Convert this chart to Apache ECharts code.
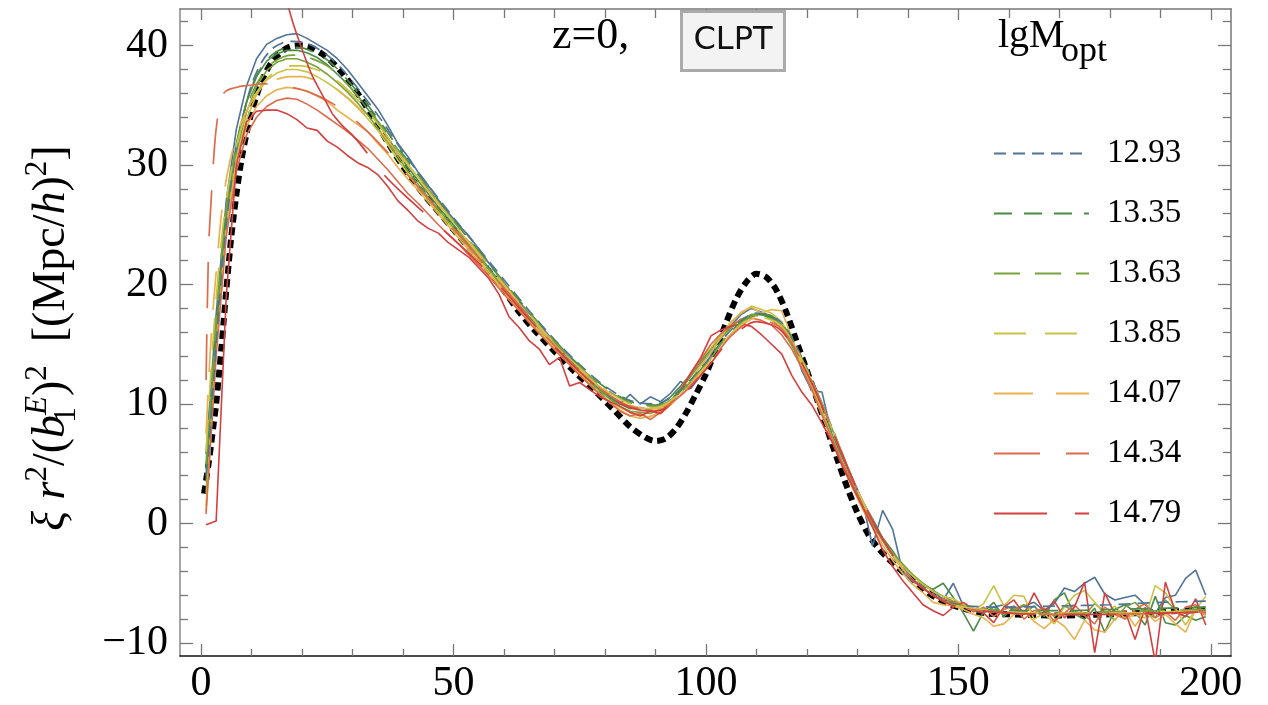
<!DOCTYPE html>
<html><head><meta charset="utf-8">
<script src="https://cdn.jsdelivr.net/npm/echarts@6/dist/echarts.min.js"></script>
<style>html,body{margin:0;padding:0;background:#fff}#c{width:1268px;height:705px}</style>
</head><body><div id="c"></div>
<script>
// ---------- tick positions ----------
const xMajorTicks = [0, 50, 100, 150, 200];
const xMinorTicks = [10, 20, 30, 40, 60, 70, 80, 90, 110, 120, 130, 140, 160, 170, 180, 190];
const yMajorTicks = [-10, 0, 10, 20, 30, 40];
const yMinorTicks = [-8, -6, -4, -2, 2, 4, 6, 8, 12, 14, 16, 18, 22, 24, 26, 28, 32, 34, 36, 38, 42];

// ---------- legend labels (lgM_opt) ----------
const massLabels = ['12.93', '13.35', '13.63', '13.85', '14.07', '14.34', '14.79'];

// ---------- simulation measurements, r = 1,3,...,199 ----------
const rSim = [1,3,5,7,9,11,13,15,17,19,21,23,25,27,29,31,33,35,37,39,41,43,45,47,49,51,53,55,57,59,61,63,65,67,69,71,73,75,77,79,81,83,85,87,89,91,93,95,97,99,101,103,105,107,109,111,113,115,117,119,121,123,125,127,129,131,133,135,137,139,141,143,145,147,149,151,153,155,157,159,161,163,165,167,169,171,173,175,177,179,181,183,185,187,189,191,193,195,197,199];

const sim1293 = [5.8,17.5,27.0,33.0,36.6,38.9,40.1,40.6,40.9,41.0,
 40.6,40.1,39.6,38.9,38.0,36.9,35.8,34.7,33.3,31.8,30.7,29.4,28.3,27.1,26.0,25.0,24.1,23.0,21.8,20.7,
 19.6,18.5,17.6,16.7,15.7,14.9,13.9,13.0,12.2,11.4,10.6,10.0,10.8,10.0,10.6,10.2,10.9,11.9,11.3,12.4,
 14.1,15.8,16.6,17.5,18.0,17.7,17.3,16.6,15.4,12.8,11.1,11.0,7.3,5.6,3.8,1.9,-1.9,1.1,-0.5,-4.1,-4.9,-5.2,-5.6,-6.4,-5.0,
 -6.9,-7.3,-7.5,-7.0,-6.8,-7.2,-6.9,-6.6,-7.3,-6.7,-5.4,-5.7,-5.0,-4.5,-5.9,-6.4,-6.2,-6.0,-6.8,-7.5,-6.2,-6.0,-4.6,-3.9,-6.0];
const sim1335 = [3.5,16.5,26.0,31.8,35.3,37.4,38.7,39.3,39.6,39.6,
 39.4,39.0,38.4,37.6,36.8,35.8,34.7,33.5,32.3,31.0,29.8,28.7,27.6,26.5,25.5,24.5,23.4,22.4,21.4,20.3,
 19.3,18.3,17.3,16.4,15.5,14.6,13.7,12.9,12.0,11.2,10.5,10.0,9.6,9.7,9.5,10.0,10.6,11.5,12.5,13.6,
 14.6,15.7,16.5,17.1,17.4,17.6,17.4,16.6,15.1,13.3,11.4,9.4,7.4,5.6,3.6,1.9,0.4,-1.2,-2.3,-3.6,-4.3,-5.2,-5.5,-5.0,-6.2,
 -7.5,-9.0,-7.4,-6.6,-7.8,-7.0,-7.5,-6.9,-7.8,-6.4,-5.8,-7.6,-8.0,-7.1,-9.1,-7.2,-6.8,-7.4,-8.5,-6.1,-8.3,-8.5,-7.7,-8.1,-7.8];
const sim1363 = [2.5,15.5,25.3,31.0,34.4,36.6,37.9,38.6,38.9,38.9,
 38.6,38.2,37.6,36.9,36.1,35.2,34.2,33.1,31.9,30.7,29.5,28.4,27.3,26.3,25.3,24.3,23.3,22.3,21.3,20.2,
 19.1,18.1,17.1,16.2,15.3,14.4,13.5,12.7,11.9,11.1,10.4,9.8,9.4,9.3,9.2,9.6,10.3,11.2,12.3,13.4,
 14.4,15.5,16.4,17.1,17.5,17.5,17.1,16.3,14.9,13.2,11.4,9.3,7.2,5.2,3.3,1.5,-0.1,-1.4,-2.5,-3.4,-4.3,-5.0,-5.6,-6.1,-6.5,
 -6.8,-7.1,-7.4,-7.0,-7.6,-7.2,-6.8,-7.5,-7.1,-7.8,-6.9,-7.3,-7.7,-6.7,-7.4,-8.1,-7.0,-6.6,-7.5,-7.9,-6.4,-7.2,-7.8,-6.9,-7.4];
const sim1385 = [1.5,14.8,24.8,30.6,33.8,35.9,37.1,37.7,38.0,38.0,
 37.8,37.4,36.9,36.3,35.6,34.8,33.9,32.9,31.7,30.4,29.3,28.1,27.1,26.1,25.1,24.1,23.1,22.1,21.1,20.0,
 19.0,18.0,17.0,16.1,15.2,14.4,13.5,12.6,11.7,10.9,10.2,9.7,9.3,9.1,8.9,9.4,10.2,11.2,12.6,13.8,
 14.7,15.8,16.9,17.6,18.2,17.9,17.6,16.9,15.4,13.5,11.6,9.4,7.2,5.1,3.2,1.5,-0.1,-1.4,-2.6,-3.6,-4.4,-5.1,-5.7,-6.1,-6.3,
 -6.8,-7.3,-6.7,-5.2,-6.9,-6.0,-6.1,-8.0,-7.5,-8.4,-7.0,-6.0,-5.6,-6.6,-7.6,-6.9,-8.0,-7.6,-7.9,-5.2,-5.8,-7.1,-8.5,-7.2,-6.1];
const sim1407 = [1.0,14.5,24.5,30.2,33.2,34.9,35.8,36.3,36.5,36.4,
 36.2,35.8,35.3,34.6,34.0,33.4,32.8,31.8,30.9,29.8,28.8,27.9,26.9,25.9,24.9,23.9,22.9,21.9,20.9,19.9,
 18.9,17.9,17.0,16.0,15.1,14.3,13.4,12.5,11.6,10.8,10.1,9.5,9.0,8.8,9.0,9.2,9.9,10.8,12.0,13.2,
 14.3,15.6,16.8,17.7,18.1,17.6,17.9,17.8,15.6,13.2,11.2,9.0,6.9,4.9,3.0,1.2,-0.3,-1.8,-3.1,-4.2,-5.1,-5.8,-6.6,-6.8,-6.9,
 -7.2,-7.6,-7.9,-8.6,-8.4,-7.6,-7.3,-8.2,-8.8,-8.0,-8.6,-9.7,-8.1,-8.9,-9.1,-8.0,-7.3,-8.6,-7.4,-8.2,-7.6,-8.4,-9.1,-7.2,-7.7];
const sim1434 = [0.8,14.0,24.0,29.5,32.5,34.0,34.9,35.4,35.6,35.5,
 35.1,34.6,34.0,33.4,32.8,32.1,31.4,30.5,29.6,28.6,27.6,26.8,25.9,25.0,24.2,23.4,22.5,21.6,20.7,19.7,
 18.7,17.8,16.8,15.9,15.0,14.1,13.3,12.4,11.6,10.8,10.1,9.4,9.0,9.2,8.7,9.3,10.1,11.3,12.5,13.7,
 15.0,15.9,16.6,17.1,17.2,17.0,16.6,15.8,14.6,13.0,11.2,9.1,7.1,5.1,3.3,1.6,0.0,-1.4,-2.7,-3.8,-4.7,-5.4,-6.0,-6.3,-6.6,
 -6.9,-7.4,-7.0,-7.8,-7.2,-6.9,-8.0,-7.3,-7.1,-8.2,-7.5,-6.8,-7.7,-8.4,-7.0,-7.6,-8.0,-7.2,-6.7,-7.9,-7.4,-8.1,-7.0,-6.8,-7.6];
const sim1479 = [-0.1,0.2,19.0,30.0,33.6,34.5,34.6,34.6,34.3,33.8,
 33.1,32.9,32.0,31.5,30.8,30.2,29.8,29.2,28.2,27.0,26.2,25.3,24.7,24.3,23.5,22.9,22.3,21.4,20.5,19.2,
 17.3,16.4,15.3,14.6,13.3,13.9,11.5,11.8,11.2,10.6,10.2,9.8,9.3,9.0,9.4,9.2,10.0,11.1,12.6,13.9,
 15.7,16.2,16.5,16.7,16.5,15.8,15.0,14.2,12.4,11.0,9.9,8.4,6.8,4.8,3.1,1.4,-0.3,-2.2,-3.6,-4.8,-5.8,-6.8,-7.3,-7.7,-7.0,
 -6.6,-7.2,-7.5,-8.3,-7.0,-6.4,-7.6,-5.8,-7.4,-6.5,-7.9,-7.0,-4.9,-10.8,-5.8,-7.6,-7.3,-9.7,-7.0,-11.6,-4.9,-7.4,-7.8,-6.3,-8.5];

// ---------- model predictions (dashed) ----------
const rTh = [1,1.5,2,2.5,3,4,5,6,7,8,10,12,14,16,18,20,22,25,28,32,36,40,45,50,55,60,65,70,75,80,85,90,95,100,105,110,115,120,125,130,135,140,145,150,160,170,180,190,199];
const th1293 = [4,6,9,12,15,20.5,25,28.5,31.3,33.5,36.7,38.6,39.7,40.2,40.35,40.3,40.0,39.2,38.0,35.9,33.6,31.1,28.3,25.6,23.0,20.4,17.8,15.4,13.3,11.5,10.3,10.0,11.2,13.5,16.2,17.6,16.8,13.0,8.0,2.8,-1.3,-4.2,-5.9,-6.8,-7.0,-6.9,-6.8,-6.6,-6.5];
const th1335 = [4.5,7,10,13,16,21.5,25.8,29.0,31.6,33.6,36.5,38.2,39.2,39.7,39.85,39.8,39.5,38.8,37.6,35.6,33.3,30.9,28.1,25.4,22.8,20.2,17.7,15.3,13.2,11.4,10.2,9.9,11.1,13.4,16.1,17.5,16.7,12.9,7.9,2.7,-1.4,-4.3,-6.0,-6.9,-7.3,-7.3,-7.2,-7.1,-7.0];
const th1363 = [5,8,11,14,17,22.3,26.3,29.2,31.5,33.3,35.9,37.5,38.5,39.0,39.2,39.15,38.9,38.3,37.2,35.3,33.1,30.7,28.0,25.3,22.7,20.1,17.6,15.2,13.1,11.3,10.1,9.8,11.0,13.3,16.0,17.4,16.6,12.9,7.9,2.7,-1.4,-4.3,-6.0,-6.9,-7.4,-7.5,-7.4,-7.3,-7.2];
const th1385 = [6,9.5,13,16,18.8,23.5,27.0,29.6,31.6,33.1,35.3,36.7,37.6,38.1,38.3,38.3,38.1,37.6,36.7,35.0,32.9,30.6,27.9,25.2,22.6,20.0,17.5,15.1,13.0,11.2,10.0,9.7,10.9,13.2,15.9,17.3,16.5,12.8,7.9,2.8,-1.3,-4.3,-6.0,-6.9,-7.4,-7.5,-7.5,-7.4,-7.3];
const th1407 = [7.5,11.8,15.5,18.5,21,25.7,28.8,30.8,32.4,33.6,35.3,36.4,37.0,37.3,37.4,37.4,37.2,36.8,36.0,34.5,32.6,30.4,27.8,25.1,22.5,19.9,17.4,15.0,12.9,11.1,9.9,9.6,10.8,13.1,15.8,17.2,16.4,12.8,7.9,2.8,-1.3,-4.3,-6.0,-7.0,-7.5,-7.6,-7.6,-7.5,-7.4];
const th1434 = [12,23,27,30.5,33,35.7,36.2,36.4,36.5,36.6,36.7,36.8,36.8,36.7,36.5,36.3,36.0,35.4,34.6,33.2,31.5,29.6,27.2,24.7,22.2,19.7,17.3,14.9,12.8,11.0,9.8,9.5,10.7,13.0,15.7,17.1,16.3,12.7,7.9,2.8,-1.3,-4.3,-6.0,-7.0,-7.5,-7.6,-7.6,-7.5,-7.4];
const rTh1479 = [14,16,18,20,22,24,26,28,30,32,36,40,45,50,55,60,65,70,75,80,85,90,95,100,105,110,115,120,125,130,135,140,145,150,160,170,180,190,199];
const th1479 = [50,45.5,42.2,39.7,37.5,35.9,34.3,33.3,32.5,31.5,29.3,27.6,25.7,23.8,21.8,19.5,17.1,14.8,12.7,10.9,9.7,9.4,10.6,12.9,15.5,16.9,16.1,12.6,7.8,2.8,-1.3,-4.3,-6.0,-7.0,-7.5,-7.6,-7.6,-7.5,-7.4];

// ---------- linear reference (thick black dotted) ----------
const rLin = [0.6,1,1.5,2,2.5,3,3.5,4,4.5,5,5.5,6,7,8,9,10,11,12,13,14,15,16,17,18,19,20,21,22,24,26,28,30,32,34,36,38,40,42,44,46,48,50,52,55,58,60,63,66,70,74,78,82,85,88,90,92,94,96,98,100,102,104,106,108,110,112,114,116,118,120,122,124,126,128,130,132,134,136,138,140,142,144,146,148,150,155,160,170,180,190,199];
const lin = [2.5,3.6,5.0,6.6,8.3,10.0,12.2,14.5,17.0,19.5,21.8,24.0,27.5,30.4,32.6,34.4,35.8,37.0,37.9,38.6,39.1,39.5,39.8,39.95,40.0,40.0,39.95,39.8,39.3,38.6,37.7,36.6,35.4,34.0,32.6,31.2,29.9,28.7,27.6,26.6,25.6,24.6,23.6,22.2,20.6,19.5,17.7,16.2,14.4,12.7,11.1,9.4,8.1,7.2,6.9,7.1,7.9,9.2,10.8,12.5,14.6,16.8,18.8,20.2,20.9,20.6,19.5,17.6,15.2,12.8,10.4,7.9,5.4,3.0,0.9,-0.8,-2.0,-2.9,-3.7,-4.4,-5.2,-5.8,-6.3,-6.7,-7.0,-7.5,-7.6,-7.7,-7.6,-7.4,-7.2];

const colors = ['#4f7497', '#4b8b46', '#78a23a', '#cbc246', '#e8b24c', '#dc6c4b', '#d43f3f'];
const dashes = [[12,7], [18,12], [26,15], [32,19], [39,23], [46,26], [53,28]];
const sims = [sim1293, sim1335, sim1363, sim1385, sim1407, sim1434, sim1479];
const ths = [th1293, th1335, th1363, th1385, th1407, th1434];

const SERIF = "'Liberation Serif','Times New Roman',serif";
const pair = (xs, ys) => xs.map((x, i) => [x, ys[i]]);
const fmt = v => v < 0 ? '\u2212' + Math.abs(v) : String(v);

const series = [];
series.push({ type: 'line', name: 'linear', data: pair(rLin, lin), symbol: 'none', smooth: 0.3, z: 2,
  lineStyle: { color: '#000', width: 6, type: [8, 5], cap: 'butt' } });
sims.forEach((s, i) => series.push({ type: 'line', name: 'sim ' + massLabels[i], data: pair(rSim, s), symbol: 'none', z: 3,
  lineStyle: { color: colors[i], width: 1.6 } }));
ths.forEach((t, i) => series.push({ type: 'line', name: massLabels[i], data: pair(rTh, t), symbol: 'none', smooth: 0.3, z: 4,
  color: colors[i], lineStyle: { color: colors[i], width: 1.7, type: dashes[i], cap: 'butt' } }));
series.push({ type: 'line', name: massLabels[6], data: pair(rTh1479, th1479).filter(p => p[0] >= 26), symbol: 'none', smooth: 0.3, z: 4,
  color: colors[6], lineStyle: { color: colors[6], width: 1.7, type: dashes[6], cap: 'butt' } });
series.push({ type: 'line', name: 'upper ' + massLabels[6], data: pair(rTh1479, th1479).filter(p => p[0] <= 26), symbol: 'none', smooth: 0.3, z: 4,
  lineStyle: { color: colors[6], width: 1.6 } });

const XMIN = -4.16, XMAX = 204.0, YMIN = -11.09, YMAX = 43.06;
const tickLine = { color: '#777', width: 1.3 };
function xAx(pos, vals, len, labels, line) {
  return { type: 'value', position: pos, min: XMIN, max: XMAX, splitLine: { show: false },
    axisLine: line ? { show: true, onZero: false, lineStyle: line } : { show: false, onZero: false },
    axisTick: { show: true, inside: true, length: len, customValues: vals, lineStyle: tickLine },
    axisLabel: labels ? { show: true, customValues: vals, formatter: fmt, fontFamily: SERIF, fontSize: 42, color: '#000', margin: 7 } : { show: false } };
}
function yAx(pos, vals, len, labels, line) {
  return { type: 'value', position: pos, min: YMIN, max: YMAX, splitLine: { show: false },
    axisLine: line ? { show: true, onZero: false, lineStyle: line } : { show: false, onZero: false },
    axisTick: { show: true, inside: true, length: len, customValues: vals, lineStyle: tickLine },
    axisLabel: labels ? { show: true, customValues: vals, formatter: fmt, fontFamily: SERIF, fontSize: 42, color: '#000', margin: 12 } : { show: false } };
}

const option = {
  animation: false,
  backgroundColor: '#fff',
  grid: { left: 180, right: 37, top: 9, bottom: 48 },
  xAxis: [
    xAx('bottom', xMajorTicks, 12, true, { color: '#111', width: 1.5 }),
    xAx('bottom', xMinorTicks, 7, false, null),
    xAx('top', xMajorTicks, 11, false, { color: '#777', width: 1.5 }),
    xAx('top', xMinorTicks, 9, false, null)
  ],
  yAxis: [
    yAx('left', yMajorTicks, 13, true, { color: '#888', width: 1.5 }),
    yAx('left', yMinorTicks, 8, false, null),
    yAx('right', yMajorTicks, 13, false, { color: '#777', width: 1.5 }),
    yAx('right', yMinorTicks, 8, false, null)
  ],
  legend: {
    orient: 'vertical', left: 988, top: 132, itemWidth: 95, itemHeight: 40, itemGap: 27,
    selectedMode: false, data: massLabels,
    itemStyle: { opacity: 0, borderWidth: 0, color: 'rgba(0,0,0,0)' },
    textStyle: { fontFamily: SERIF, fontSize: 33, color: '#000', padding: [0, 0, 0, 13] }
  },
  series: series,
  graphic: [
    { type: 'text', x: 552, y: 36.5, z: 10,
      style: { text: 'z=0,', fontFamily: SERIF, fontSize: 44, fill: '#000', align: 'left', verticalAlign: 'middle' } },
    { type: 'rect', x: 681.5, y: 11.5, z: 10,
      shape: { width: 103, height: 59 },
      style: { fill: '#f3f3f3', stroke: '#aaaaaa', lineWidth: 3 } },
    { type: 'text', x: 733, y: 41, z: 11,
      style: { text: 'CLPT', fontFamily: "'DejaVu Sans',sans-serif", fontSize: 32, fill: '#111', align: 'center', verticalAlign: 'middle' } },
    { type: 'text', x: 998, y: 36.5, z: 10,
      style: { text: 'lgM', fontFamily: SERIF, fontSize: 40, fill: '#000', align: 'left', verticalAlign: 'middle' } },
    { type: 'text', x: 1061, y: 52, z: 10,
      style: { text: 'opt', fontFamily: SERIF, fontSize: 36, fill: '#000', align: 'left', verticalAlign: 'middle' } },
    { type: 'text', x: 52, y: 338, rotation: Math.PI / 2, z: 10,
      style: {
        text: '{i|\u03BE} {i|r}{sup|2}{n|/(}{i|b}{sub|1}{supi|E}{n|)}{sup|2}  {n|[(Mpc/}{i|h}{n|)}{sup|2}{n|]}',
        fontFamily: SERIF, fontSize: 46, fill: '#000', align: 'center', verticalAlign: 'middle',
        rich: {
          i: { fontFamily: SERIF, fontSize: 46, fontStyle: 'italic', lineHeight: 60, fill: '#000' },
          n: { fontFamily: SERIF, fontSize: 46, lineHeight: 60, fill: '#000' },
          sup: { fontFamily: SERIF, fontSize: 31, lineHeight: 30, verticalAlign: 'top', fill: '#000' },
          supi: { fontFamily: SERIF, fontSize: 31, fontStyle: 'italic', lineHeight: 30, verticalAlign: 'top', fill: '#000' },
          sub: { fontFamily: SERIF, fontSize: 31, lineHeight: 30, verticalAlign: 'bottom', width: 0, fill: '#000' }
        }
      } }
  ]
};
const chart = echarts.init(document.getElementById('c'), null, { renderer: 'canvas' });
chart.setOption(option);
</script></body></html>
